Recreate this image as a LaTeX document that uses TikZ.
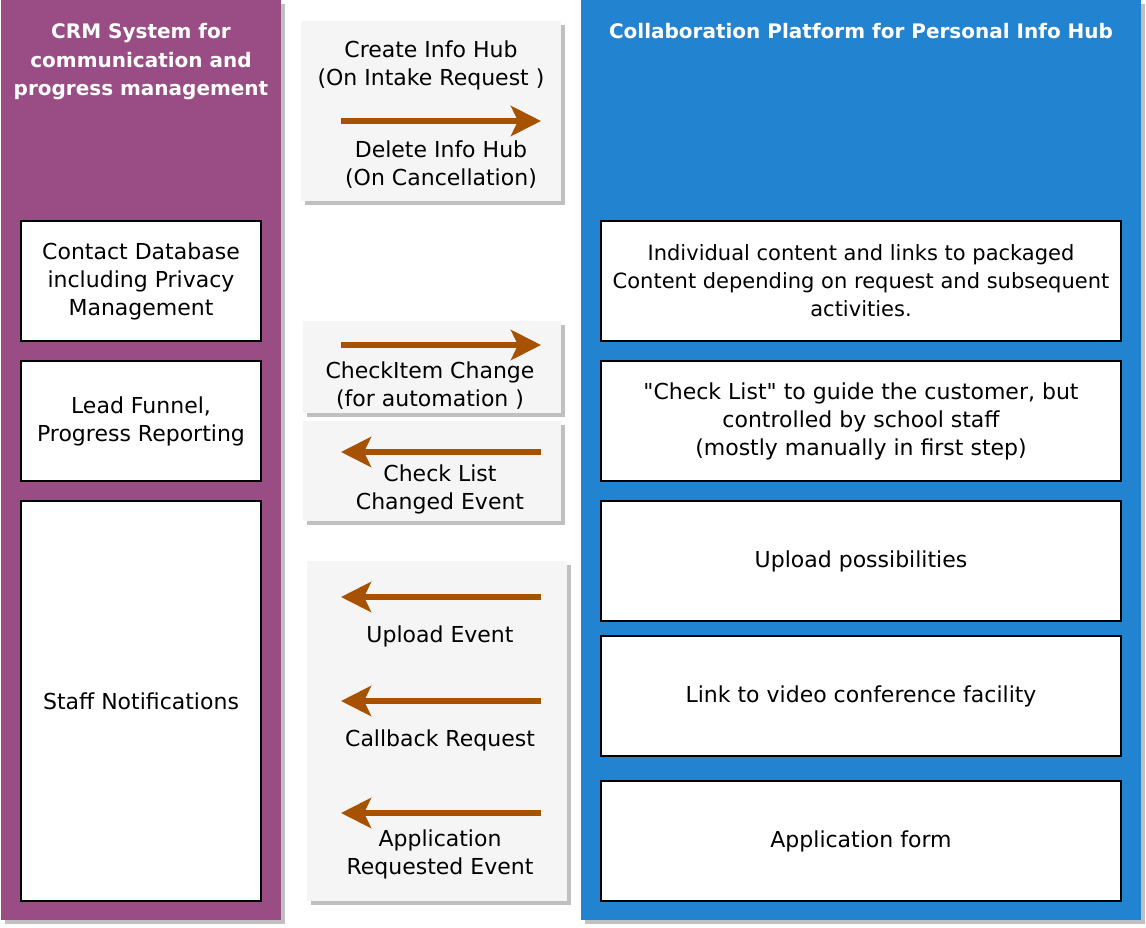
\documentclass[tikz,border=0pt]{standalone}
\usepackage{fontspec}
\setmainfont{DejaVu Sans}
\usetikzlibrary{arrows.meta,shadows}

\definecolor{crmpurple}{RGB}{154,77,132}
\definecolor{hubblue}{RGB}{34,132,208}
\definecolor{eventgray}{RGB}{245,245,245}
\definecolor{shadowgray}{RGB}{192,192,192}
\definecolor{arrowbrown}{RGB}{166,82,0}

\tikzset{
    boxshadow/.style={drop shadow={shadow xshift=4pt, shadow yshift=-4pt, fill=shadowgray, opacity=1}},
    panel/.style={rectangle, draw=none, boxshadow, inner sep=0pt},
    paneltitle/.style={text=white, font=\bfseries\fontsize{20}{28.5}\selectfont, align=center},
    itembox/.style={rectangle, draw=black, line width=2pt, fill=white, minimum width=240pt,
        minimum height=120pt, align=center, font=\fontsize{22}{28}\selectfont, inner sep=2pt},
    eventbox/.style={rectangle, draw=none, fill=eventgray, boxshadow, inner sep=0pt},
    eventlabel/.style={align=center, font=\fontsize{22}{28}\selectfont},
    eventarrow/.style={draw=arrowbrown, line width=6pt,
        -{Stealth[length=30pt,width=30pt,inset=7pt,fill=arrowbrown]}},
}

\begin{document}
\begin{tikzpicture}[x=1pt,y=-1pt]
    \useasboundingbox (0,0) rectangle (1146,928);

    % the two systems
    \node[panel, fill=crmpurple, minimum width=280pt, minimum height=920pt] (crm) at (141,460) {};
    \node[panel, fill=hubblue, minimum width=560pt, minimum height=920pt] (hub) at (861,460) {};
    \node[paneltitle] (crmtitle) at (141,62) {CRM System for\\communication and\\progress management};
    \node[paneltitle] (hubtitle) at (861,31) {Collaboration Platform for Personal Info Hub};

    % CRM side
    \node[itembox] (contact) at (141,281) {Contact Database\\including Privacy\\Management};
    \node[itembox] (funnel) at (141,421) {Lead Funnel,\\Progress Reporting};
    \node[itembox, minimum height=400pt] (notify) at (141,701) {Staff Notifications};

    % info hub side
    \node[itembox, minimum width=520pt, font=\fontsize{21}{28}\selectfont] (content) at (861,281) {Individual content and links to packaged\\Content depending on request and subsequent\\activities.};
    \node[itembox, minimum width=520pt] (checklist) at (861,421) {\textquotedbl Check List\textquotedbl{} to guide the customer, but\\controlled by school staff\\(mostly manually in first step)};
    \node[itembox, minimum width=520pt] (upload) at (861,561) {Upload possibilities};
    \node[itembox, minimum width=520pt] (video) at (861,696) {Link to video conference facility};
    \node[itembox, minimum width=520pt] (appform) at (861,841) {Application form};

    % events between them
    \node[eventbox, minimum width=260pt, minimum height=180pt] (hubevents) at (431,111) {};
    \node[eventbox, minimum width=258pt, minimum height=92pt] (itemevents) at (432,367) {};
    \node[eventbox, minimum width=258pt, minimum height=100pt] (listevents) at (432,471) {};
    \node[eventbox, minimum width=260pt, minimum height=340pt] (userevents) at (437,731) {};

    \node[eventlabel] (create) at (431,65) {Create Info Hub\\(On Intake Request )};
    \node[eventlabel] (delete) at (441,165) {Delete Info Hub\\(On Cancellation)};
    \node[eventlabel] (itemchange) at (430,386) {CheckItem Change\\(for automation )};
    \node[eventlabel] (listchange) at (440,489) {Check List\\Changed Event};
    \node[eventlabel] (uploadev) at (440,636) {Upload Event};
    \node[eventlabel] (callback) at (440,740) {Callback Request};
    \node[eventlabel] (applyev) at (440,854) {Application\\Requested Event};

    \coordinate (hubleft) at (341,121);  \coordinate (hubright) at (541,121);
    \coordinate (itemleft) at (341,345); \coordinate (itemright) at (541,345);
    \draw[eventarrow] (hubleft) -- (hubright);
    \draw[eventarrow] (itemleft) -- (itemright);

    \foreach \name/\y in {list/452, upload/597, callback/701, apply/813} {
        \coordinate (\name left) at (341,\y);
        \coordinate (\name right) at (541,\y);
        \draw[eventarrow] (\name right) -- (\name left);
    }

\end{tikzpicture}
\end{document}
